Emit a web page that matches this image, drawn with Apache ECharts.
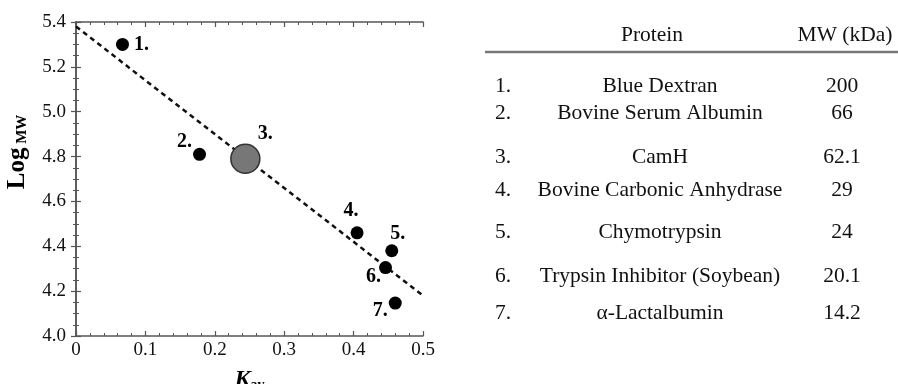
<!DOCTYPE html>
<html>
<head>
<meta charset="utf-8">
<script src="https://cdn.jsdelivr.net/npm/echarts@6/dist/echarts.min.js"></script>
<style>html,body{margin:0;padding:0;background:#fff}#c{width:898px;height:384px}</style>
</head>
<body>
<div id="c"></div>
<script>
// ---- data ----
const pointLabels = ['1.', '2.', '3.', '4.', '5.', '6.', '7.'];
const kav = [0.067, 0.178, 0.244, 0.405, 0.455, 0.446, 0.460];
const logMW = [5.30, 4.81, 4.79, 4.46, 4.38, 4.305, 4.147];
const fitKav = [0, 0.5];
const fitLogMW = [5.38, 4.18];
const xTicks = [0, 0.1, 0.2, 0.3, 0.4, 0.5];
const yTicks = [4.0, 4.2, 4.4, 4.6, 4.8, 5.0, 5.2, 5.4];
const tableHeader = ['Protein', 'MW (kDa)'];
const proteinNames = ['Blue Dextran', 'Bovine Serum Albumin', 'CamH', 'Bovine Carbonic Anhydrase', 'Chymotrypsin', 'Trypsin Inhibitor (Soybean)', '\u03b1-Lactalbumin'];
const mwValues = ['200', '66', '62.1', '29', '24', '20.1', '14.2'];

// ---- styling (label placement, row positions) ----
const labelOffsets = [[19, 0], [-15, -13], [20, -25], [-6, -22], [6, -17], [-12, 9], [-15, 8]];
const rowY = [86, 113, 157, 190, 232, 276, 313];
const serif = '"Liberation Serif", "DejaVu Serif", serif';
const tableFont = '21.5px ' + serif;

const chart = echarts.init(document.getElementById('c'));

const scatterData = kav.map((x, i) => {
  const big = i === 2;
  return {
    value: [x, logMW[i]],
    symbolSize: big ? 29 : 13,
    itemStyle: big ? { color: '#777', borderColor: '#333', borderWidth: 1.5, opacity: 1 } : { color: '#000', opacity: 1 },
    label: {
      show: true, formatter: pointLabels[i], position: 'inside',
      offset: labelOffsets[i], fontFamily: serif, fontWeight: 'bold', fontSize: 20, color: '#000'
    }
  };
});

const axisCommon = {
  type: 'value',
  axisLine: { show: true, lineStyle: { color: '#555', width: 1.5 } },
  axisTick: { show: true, inside: true, length: 5, lineStyle: { color: '#555', width: 1.2 } },
  minorTick: { show: true, length: 3, lineStyle: { color: '#555', width: 1 } },
  splitLine: { show: false }
};

const graphics = [];
graphics.push({ type: 'text', style: { text: tableHeader[0], x: 652, y: 35, align: 'center', verticalAlign: 'middle', font: tableFont, fill: '#111' } });
graphics.push({ type: 'text', style: { text: tableHeader[1], x: 845, y: 35, align: 'center', verticalAlign: 'middle', font: tableFont, fill: '#111' } });
graphics.push({ type: 'line', shape: { x1: 485, y1: 52, x2: 898, y2: 52 }, style: { stroke: '#777', lineWidth: 2.5 } });
proteinNames.forEach((name, i) => {
  graphics.push({ type: 'text', style: { text: pointLabels[i], x: 495, y: rowY[i], align: 'left', verticalAlign: 'middle', font: tableFont, fill: '#111' } });
  graphics.push({ type: 'text', style: { text: name, x: 660, y: rowY[i], align: 'center', verticalAlign: 'middle', font: tableFont, fill: '#111' } });
  graphics.push({ type: 'text', style: { text: mwValues[i], x: 842, y: rowY[i], align: 'center', verticalAlign: 'middle', font: tableFont, fill: '#111' } });
});

chart.setOption({
  animation: false,
  backgroundColor: '#fff',
  grid: { left: 76, top: 22, right: 475, bottom: 48, outerBoundsMode: 'none', containLabel: false },
  xAxis: [
    Object.assign({}, axisCommon, {
      min: xTicks[0], max: xTicks[xTicks.length - 1], interval: 0.1, position: 'bottom',
      minorTick: Object.assign({}, axisCommon.minorTick, { splitNumber: 5 }),
      axisLabel: { fontFamily: serif, fontSize: 19, color: '#111', margin: 5 },
      name: '{k|K}{s|av}', nameLocation: 'middle', nameGap: 32,
      nameTextStyle: {
        rich: {
          k: { fontFamily: serif, fontSize: 24, fontWeight: 'bold', fontStyle: 'italic', color: '#000', verticalAlign: 'bottom' },
          s: { fontFamily: serif, fontSize: 14, fontWeight: 'bold', color: '#000', verticalAlign: 'bottom' }
        }
      }
    }),
    Object.assign({}, axisCommon, {
      min: xTicks[0], max: xTicks[xTicks.length - 1], interval: 0.1, position: 'top',
      minorTick: Object.assign({}, axisCommon.minorTick, { splitNumber: 5 }),
      axisLabel: { show: false }
    })
  ],
  yAxis: [
    Object.assign({}, axisCommon, {
      min: yTicks[0], max: yTicks[yTicks.length - 1], interval: 0.2, position: 'left',
      minorTick: Object.assign({}, axisCommon.minorTick, { splitNumber: 4 }),
      axisLabel: { fontFamily: serif, fontSize: 19, color: '#111', margin: 10, formatter: v => v.toFixed(1) },
      name: '{l|Log}{s| MW}', nameLocation: 'middle', nameGap: 46, nameRotate: 90,
      nameTextStyle: {
        padding: [0, 0, 0, 54],
        rich: {
          l: { fontFamily: serif, fontSize: 25, fontWeight: 'bold', color: '#000', verticalAlign: 'bottom' },
          s: { fontFamily: serif, fontSize: 15, fontWeight: 'bold', color: '#000', verticalAlign: 'bottom' }
        }
      }
    }),
    Object.assign({}, axisCommon, {
      min: yTicks[0], max: yTicks[yTicks.length - 1], interval: 0.2, position: 'right',
      minorTick: Object.assign({}, axisCommon.minorTick, { splitNumber: 4 }),
      axisLabel: { show: false }
    })
  ],
  series: [
    {
      type: 'line', xAxisIndex: 0, yAxisIndex: 0,
      data: fitKav.map((x, i) => [x, fitLogMW[i]]),
      showSymbol: false, symbol: 'none',
      lineStyle: { color: '#111', width: 2.5, type: [5, 4] },
      z: 2, silent: true
    },
    {
      type: 'scatter', xAxisIndex: 0, yAxisIndex: 0,
      data: scatterData, z: 3
    }
  ],
  graphic: graphics
});
</script>
</body>
</html>
